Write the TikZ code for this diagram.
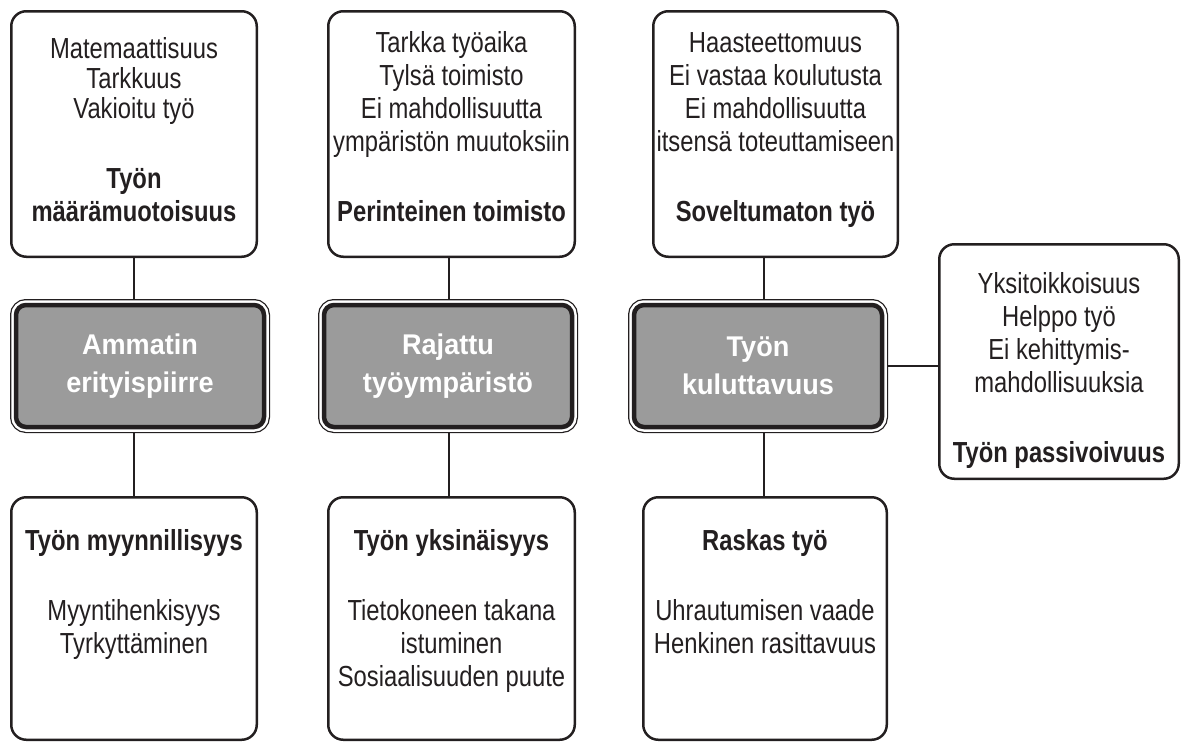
\documentclass[tikz,border=0pt]{standalone}
\usepackage{fontspec}
\setmainfont{Liberation Sans}[FakeStretch=0.82]
\newfontfamily\keyfont{Liberation Sans Bold}[FakeStretch=0.95]
\usetikzlibrary{backgrounds}
\definecolor{ink}{RGB}{35,31,32}
\definecolor{keygray}{RGB}{155,155,155}

\tikzset{
  card/.style={draw=ink, line width=2.5pt, rounded corners=15pt, fill=white,
    inner sep=0pt, outer sep=0pt},
  cardtext/.style={anchor=north, align=center, inner sep=0pt, text=ink,
    font=\fontsize{29}{33}\selectfont},
  keybox/.style={fill=keygray, draw=ink, line width=4.5pt, rounded corners=10pt,
    minimum width=248pt, minimum height=122pt, inner sep=0pt, outer sep=0pt,
    preaction={draw=ink, line width=12pt},
    preaction={draw=white, line width=9.5pt},
    align=center, text=white, font=\keyfont\fontsize{28.5}{38}\selectfont},
  link/.style={draw=ink, line width=1.2pt}
}

\begin{document}
\begin{tikzpicture}[x=1pt, y=-1pt]
\useasboundingbox (0,0) rectangle (1184,742);

% central key boxes
\node[keybox] (m1) at (140,366) {Ammatin\\erityispiirre};
\node[keybox] (m2) at (448,366) {Rajattu\\työympäristö};
\node[keybox] (m3) at (758,366) {Työn\\kuluttavuus};

% upper cards
\node[card, minimum width=245.5pt, minimum height=245.5pt] (t1) at (134,134) {};
\node[card, minimum width=246.5pt, minimum height=245.5pt] (t2) at (451.5,134) {};
\node[card, minimum width=244.5pt, minimum height=245.5pt] (t3) at (775.5,134) {};

% lower cards
\node[card, minimum width=245.5pt, minimum height=242.5pt] (b1) at (134,618.5) {};
\node[card, minimum width=246.5pt, minimum height=242.5pt] (b2) at (451.5,618.5) {};
\node[card, minimum width=243.5pt, minimum height=242.5pt] (b3) at (765,618.5) {};

% side card
\node[card, minimum width=239.5pt, minimum height=234.5pt] (p) at (1059,361.5) {};

% card texts
\node[cardtext] (t1x) at ([yshift=-23.5pt]t1.north)
  {\strut Matemaattisuus\\[-3pt]Tarkkuus\\[-3pt]Vakioitu työ\\[37pt]\textbf{Työn}\\\textbf{määrämuotoisuus}};
\node[cardtext] (t2x) at ([yshift=-18pt]t2.north)
  {\strut Tarkka työaika\\Tylsä toimisto\\Ei mahdollisuutta\\ympäristön muutoksiin\\[37pt]\textbf{Perinteinen toimisto}};
\node[cardtext] (t3x) at ([yshift=-18pt]t3.north)
  {\strut Haasteettomuus\\Ei vastaa koulutusta\\Ei mahdollisuutta\\itsensä toteuttamiseen\\[37pt]\textbf{Soveltumaton työ}};

\node[cardtext] (b1x) at ([yshift=-29.5pt]b1.north)
  {\strut\textbf{Työn myynnillisyys}\\[37pt]Myyntihenkisyys\\Tyrkyttäminen};
\node[cardtext] (b2x) at ([yshift=-29.5pt]b2.north)
  {\strut\textbf{Työn yksinäisyys}\\[37pt]Tietokoneen takana\\istuminen\\Sosiaalisuuden puute};
\node[cardtext] (b3x) at ([yshift=-29.5pt]b3.north)
  {\strut\textbf{Raskas työ}\\[37pt]Uhrautumisen vaade\\Henkinen rasittavuus};

\node[cardtext] (px) at ([yshift=-25.5pt]p.north)
  {\strut Yksitoikkoisuus\\Helppo työ\\Ei kehittymis-\\mahdollisuuksia\\[37pt]\textbf{Työn passivoivuus}};

% connector columns
\coordinate (k1) at (134,0);
\coordinate (k2) at (449,0);
\coordinate (k3) at (764,0);

\begin{pgfonlayer}{background}
  \draw[link] (t1.south -| k1) -- (m1.north -| k1);
  \draw[link] (m1.south -| k1) -- (b1.north -| k1);
  \draw[link] (t2.south -| k2) -- (m2.north -| k2);
  \draw[link] (m2.south -| k2) -- (b2.north -| k2);
  \draw[link] (t3.south -| k3) -- (m3.north -| k3);
  \draw[link] (m3.south -| k3) -- (b3.north -| k3);
  \draw[link] (m3.east) -- (m3.east -| p.west);
\end{pgfonlayer}
\end{tikzpicture}
\end{document}
